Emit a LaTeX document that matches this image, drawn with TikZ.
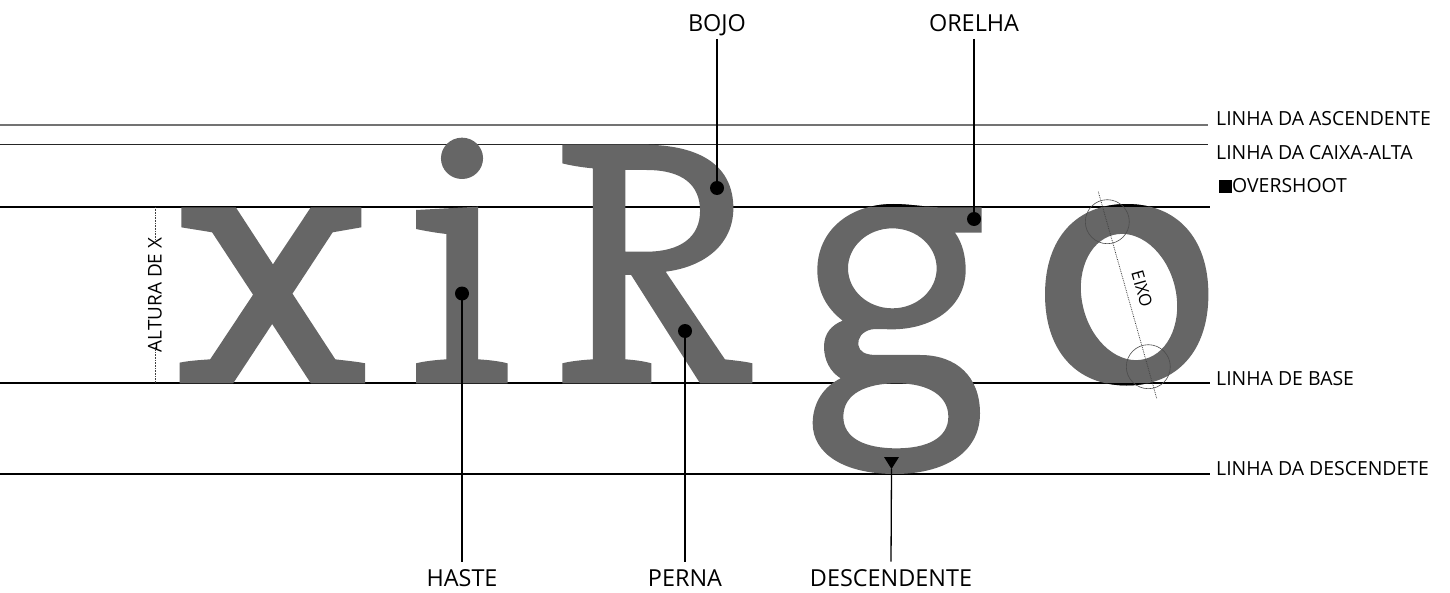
\documentclass[tikz,border=0pt]{standalone}
\usepackage{fontspec}
\setmainfont{Open Sans}
\definecolor{glyph}{HTML}{666666}
\begin{document}
\begin{tikzpicture}[x=1bp,y=-1bp,
  guide/.style={line width=1.2bp},
  toplbl/.style={inner sep=0pt, anchor=base, font=\fontsize{23.5}{24}\selectfont},
  sidelbl/.style={inner sep=0pt, anchor=base west, font=\fontsize{19.5}{20}\selectfont},
  conn/.style={line width=1.3bp, black},
  dotmark/.style={fill=black, circle, inner sep=0pt, minimum size=14bp},
  fine/.style={line width=0.6bp, black!70},
  dotline/.style={densely dotted, line width=0.8bp, black!75}]
\useasboundingbox (0,0) rectangle (1450,593);

% guide lines
\draw[guide, black!55] (0,125) -- (1208,125);
\draw[guide, black!85] (0,144.5) -- (1208,144.5);
\draw[guide] (0,207) -- (1210,207);
\draw[guide] (0,383) -- (1210,383);
\draw[guide] (0,474) -- (1210,474);

% x, i, R
\begin{scope}[shift={(170,130)}, xscale=0.3827, yscale=0.33333]
 \fill[glyph] (30,232) -- (172,232) -- (269,403) -- (368,232) -- (500,232) -- (500,292)
   .. controls (475,297) and (450,302) .. (425,307) -- (320,491) -- (432,688)
   .. controls (460,692) and (490,695) .. (510,700) -- (510,760) -- (368,760) -- (267,582)
   -- (165,760) -- (25,760) -- (25,698) .. controls (50,692) and (80,690) .. (105,688)
   -- (217,494) -- (110,307) .. controls (85,302) and (55,297) .. (30,292) -- cycle;
 \fill[glyph] (643,240) -- (805,230) -- (805,688) .. controls (835,690) and (862,694) .. (882,700)
   -- (882,760) -- (643,760) -- (643,700) .. controls (663,694) and (692,690) .. (722,688)
   -- (722,312) .. controls (692,308) and (663,302) .. (643,297) -- cycle;
 \fill[glyph] (763,85) ellipse [x radius=55, y radius=62];
 \fill[glyph, even odd rule] (1025,44) -- (1235,44)
   .. controls (1390,44) and (1472,110) .. (1472,235)
   .. controls (1472,340) and (1400,410) .. (1295,425)
   -- (1450,688) .. controls (1480,692) and (1505,695) .. (1522,700)
   -- (1522,760) -- (1385,760) -- (1205,435) -- (1190,435) -- (1190,688)
   .. controls (1215,690) and (1240,694) .. (1258,700)
   -- (1258,760) -- (1025,760) -- (1025,700)
   .. controls (1045,694) and (1075,690) .. (1105,688)
   -- (1105,115) .. controls (1075,112) and (1045,106) .. (1025,100) -- cycle
   (1190,120) -- (1245,120) .. controls (1340,120) and (1385,165) .. (1385,243)
   .. controls (1385,320) and (1335,365) .. (1245,365) -- (1190,365) -- cycle;
\end{scope}

% g
\def\gouter{(280,42) .. controls (330,42) and (385,52) .. (420,52) -- (545,52) -- (545,128) -- (465,128)
   .. controls (488,160) and (497,200) .. (497,240)
   .. controls (497,345) and (405,418) .. (275,418)
   .. controls (255,418) and (235,416) .. (215,418)
   .. controls (185,425) and (172,445) .. (175,465)
   .. controls (178,485) and (195,495) .. (230,495)
   -- (360,495)
   .. controls (470,495) and (540,560) .. (540,670)
   .. controls (540,790) and (430,852) .. (285,852)
   .. controls (130,852) and (38,790) .. (38,700)
   .. controls (38,640) and (70,590) .. (122,565)
   .. controls (90,545) and (72,510) .. (72,470)
   .. controls (72,430) and (95,405) .. (128,392)
   .. controls (80,355) and (52,305) .. (52,240)
   .. controls (52,120) and (150,42) .. (280,42) -- cycle}
\begin{scope}[shift={(800,190)}, scale=0.33333]
 \fill[glyph, even odd rule] \gouter
   (277,235) ellipse [x radius=133, y radius=120]
   (130,680) .. controls (130,610) and (200,580) .. (290,580)
   .. controls (390,580) and (445,620) .. (445,680)
   .. controls (445,745) and (380,775) .. (290,775)
   .. controls (195,775) and (130,745) .. (130,680) -- cycle;
 \begin{scope}
  \clip (0,0) rectangle (600,50.5);
  \fill[black] \gouter;
 \end{scope}
\end{scope}

% o
\def\oouter{(1208.4,294.5) .. controls (1208.4,350.6) and (1177.4,385.5) .. (1126.7,385.5)
   .. controls (1076,385.5) and (1045,350.6) .. (1045,294.5)
   .. controls (1045,238.4) and (1076,204) .. (1126.7,204)
   .. controls (1177.4,204) and (1208.4,238.4) .. (1208.4,294.5) -- cycle}
\fill[glyph, even odd rule] \oouter
   (1129,297) ellipse [x radius=47, y radius=64, rotate=14];
\begin{scope}
 \clip (1040,190) rectangle (1215,206.4);
 \fill[black] \oouter;
\end{scope}
\begin{scope}
 \clip (1040,383.6) rectangle (1215,395);
 \fill[black] \oouter;
\end{scope}

% stress circles and axis
\coordinate (axisTop) at (1098.3,191.7);
\coordinate (axisBot) at (1156.7,398.3);
\draw[dotline] (axisTop) -- (axisBot);
\draw[fine] (1107.3,221.7) circle [radius=22];
\draw[fine] (1148.3,366.7) circle [radius=22];
\node[inner sep=0pt, rotate=-74, font=\fontsize{17}{18}\selectfont] (eixo) at (1142,289) {EIXO};

% altura de x
\node[inner sep=0pt, rotate=90, font=\fontsize{19}{20}\selectfont] (altura) at (155,295) {ALTURA DE X};
\coordinate (xTop) at (155,207);
\coordinate (xBot) at (155,383);
\draw[dotline, line width=0.6bp] (xTop) -- ([yshift=-6bp]altura.east);
\draw[dotline, line width=0.6bp] (xBot) -- ([yshift=6bp]altura.west);

% labels and connectors
\node[toplbl] (bojo) at (717,31.7) {BOJO};
\node[toplbl] (orelha) at (974,31.7) {ORELHA};
\node[toplbl] (haste) at (462,586.7) {HASTE};
\node[toplbl] (perna) at (685,586.7) {PERNA};
\node[toplbl] (desc) at (891,586.7) {DESCENDENTE};

\node[dotmark] (bojoDot) at (717,188) {};
\node[dotmark] (orelhaDot) at (974,219) {};
\node[dotmark] (hasteDot) at (462,293.5) {};
\node[dotmark] (pernaDot) at (685,331) {};
\coordinate (descTip) at (891.5,469);
\fill (884,457) -- (899,457) -- (descTip) -- cycle;

\draw[conn] ([yshift=-7.3bp]bojo.base) -- (bojoDot.center);
\draw[conn] ([yshift=-7.3bp]orelha.base) -- (orelhaDot.center);
\draw[conn] (hasteDot.center) -- ([yshift=8bp]haste.north);
\draw[conn] (pernaDot.center) -- ([yshift=8bp]perna.north);
\draw[conn] (descTip) -- ([yshift=8bp]desc.north);

% side labels
\node[sidelbl] (asc) at (1216,125.5) {LINHA DA ASCENDENTE};
\node[sidelbl] (cap) at (1216,160) {LINHA DA CAIXA-ALTA};
\node[sidelbl] (over) at (1219,193) {\rule{13bp}{13bp}OVERSHOOT};
\node[sidelbl] (base) at (1216,385) {LINHA DE BASE};
\node[sidelbl] (descl) at (1216,475.5) {LINHA DA DESCENDETE};
\end{tikzpicture}
\end{document}
